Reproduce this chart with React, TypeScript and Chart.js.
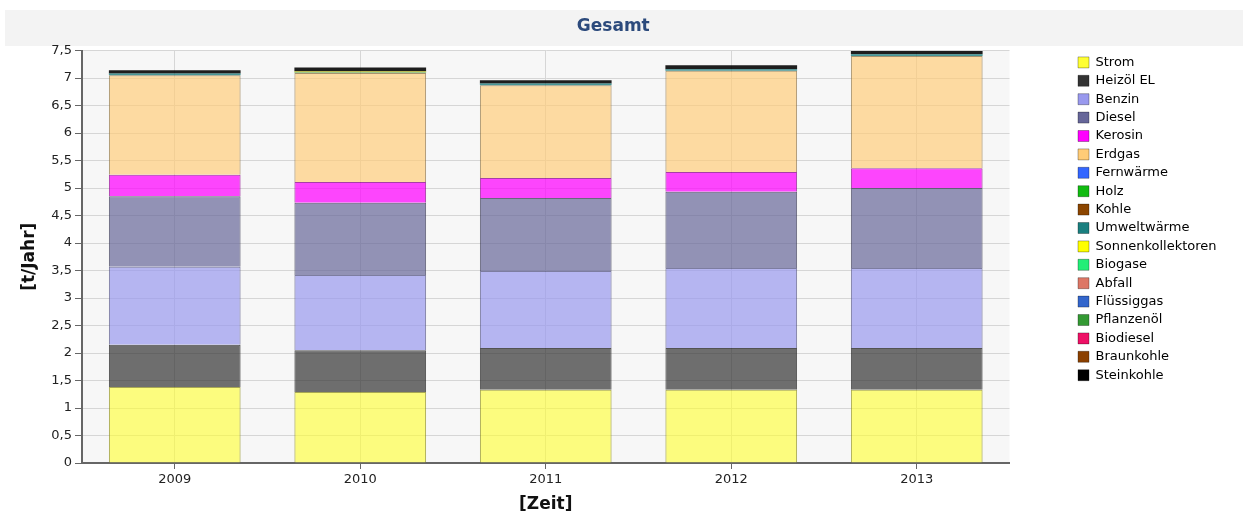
import React, { useEffect, useRef } from 'react';
import { Chart, registerables } from 'chart.js';

Chart.register(...registerables);

// ---------- data ----------
const years = ['2009', '2010', '2011', '2012', '2013'];
const yTickLabels = ['0', '0,5', '1', '1,5', '2', '2,5', '3', '3,5', '4', '4,5', '5', '5,5', '6', '6,5', '7', '7,5'];

const seriesNames = [
  'Strom', 'Heizöl EL', 'Benzin', 'Diesel', 'Kerosin', 'Erdgas', 'Fernwärme', 'Holz', 'Kohle',
  'Umweltwärme', 'Sonnenkollektoren', 'Biogase', 'Abfall', 'Flüssiggas', 'Pflanzenöl', 'Biodiesel',
  'Braunkohle', 'Steinkohle',
];

const strom = [1.38, 1.29, 1.33, 1.33, 1.33];
const heizoelEL = [0.77, 0.76, 0.76, 0.76, 0.76];
const benzin = [1.42, 1.37, 1.40, 1.455, 1.455];
const diesel = [1.28, 1.31, 1.33, 1.385, 1.455];
const kerosin = [0.39, 0.38, 0.36, 0.36, 0.36];
const erdgas = [1.81, 1.98, 1.69, 1.84, 2.04];
const fernwaerme = [0, 0, 0, 0, 0];
const holz = [0, 0, 0, 0, 0];
const kohle = [0, 0, 0, 0, 0];
const umweltwaerme = [0.03, 0.01, 0.03, 0.03, 0.03];
const sonnenkollektoren = [0, 0.02, 0, 0, 0];
const biogase = [0, 0, 0, 0, 0];
const abfall = [0, 0, 0, 0, 0];
const fluessiggas = [0, 0, 0, 0, 0];
const pflanzenoel = [0, 0, 0, 0, 0];
const biodiesel = [0, 0, 0, 0, 0];
const braunkohle = [0, 0, 0, 0, 0];
const steinkohle = [0.06, 0.07, 0.06, 0.07, 0.06];

const seriesValues = [
  strom, heizoelEL, benzin, diesel, kerosin, erdgas, fernwaerme, holz, kohle,
  umweltwaerme, sonnenkollektoren, biogase, abfall, fluessiggas, pflanzenoel, biodiesel,
  braunkohle, steinkohle,
];

// ---------- styles ----------
const seriesColors: [number, number, number][] = [
  [255, 255, 51], [51, 51, 51], [153, 153, 238], [102, 102, 153], [255, 0, 255], [255, 204, 119],
  [51, 102, 255], [17, 187, 17], [139, 69, 0], [26, 127, 127], [255, 255, 0], [34, 238, 119],
  [221, 119, 102], [51, 102, 204], [51, 153, 51], [238, 17, 102], [139, 64, 0], [0, 0, 0],
];
const seriesAlpha = [0.62, 0.7, 0.7, 0.7, 0.72, 0.68, 0.8, 0.8, 0.8, 0.8, 0.8, 0.8, 0.8, 0.8, 0.8, 0.8, 0.8, 0.88];

const rgba = (c: [number, number, number], a: number) => `rgba(${c[0]},${c[1]},${c[2]},${a})`;
const darker = (c: [number, number, number]) => `rgba(${Math.round(c[0] * 0.55)},${Math.round(c[1] * 0.55)},${Math.round(c[2] * 0.55)},0.75)`;

const plotBg = {
  id: 'plotBg',
  beforeDraw(chart: any) {
    const { ctx, chartArea: a } = chart;
    ctx.save();
    ctx.fillStyle = '#f7f7f7';
    ctx.fillRect(a.left, a.top, a.right - a.left, a.bottom - a.top);
    ctx.restore();
  },
};

export default function App() {
  const ref = useRef<HTMLCanvasElement>(null);

  useEffect(() => {
    const canvas = ref.current;
    if (!canvas) return;
    const fontFamily = '"DejaVu Sans", Verdana, sans-serif';
    Chart.defaults.font.family = fontFamily;

    const W = 1229;
    const legendFont = 13;
    const boxW = 11;
    const legendPad = 5.4;
    const mctx = document.createElement('canvas').getContext('2d')!;
    mctx.font = `${legendFont}px ${fontFamily}`;
    const maxText = Math.max(...seriesNames.map((n) => mctx.measureText(n).width));
    const legendW = legendPad + boxW + legendFont / 2 + maxText + 10;
    const plotRight = 1009.5;
    const gapW = 1078 - plotRight - legendPad;
    const padRight = Math.max(0, W - plotRight - gapW - legendW);

    const datasets = seriesNames.map((name, i) => {
      const small = i >= 6;
      return {
        label: name,
        data: seriesValues[i],
        backgroundColor: rgba(seriesColors[i], seriesAlpha[i]),
        borderColor: darker(seriesColors[i]),
        borderWidth: small ? 0 : 1,
        barPercentage: 0.71,
        categoryPercentage: 1,
        yAxisID: 'y',
      };
    });

    const chart = new Chart(canvas, {
      type: 'bar',
      data: { labels: years, datasets },
      plugins: [plotBg],
      options: {
        animation: false,
        responsive: false,
        layout: { padding: { left: 0, right: padRight, top: 0, bottom: 0 } },
        plugins: {
          title: {
            display: true,
            text: 'Gesamt',
            color: '#2c4a7c',
            font: { size: 17, weight: 'bold' },
            padding: { top: 16.8, bottom: 13.3 },
          },
          legend: {
            position: 'right',
            align: 'start',
            fullSize: false,
            labels: {
              boxWidth: boxW,
              boxHeight: boxW,
              padding: legendPad,
              color: '#222',
              font: { size: legendFont },
              generateLabels: (ch: any) =>
                ch.data.datasets.map((ds: any, i: number) => ({
                  text: ds.label,
                  fillStyle: rgba(seriesColors[i], 1),
                  strokeStyle: 'rgba(0,0,0,0.3)',
                  lineWidth: 1,
                  hidden: false,
                  datasetIndex: i,
                })),
            },
          },
          tooltip: { enabled: false },
        },
        scales: {
          x: {
            stacked: true,
            grid: { offset: false, color: '#d6d6d6', tickColor: '#666', tickLength: 6 },
            border: { color: '#666', width: 2 },
            ticks: { color: '#222', font: { size: 13 }, padding: 3 },
            title: {
              display: true,
              text: '[Zeit]',
              color: '#111',
              font: { size: 17, weight: 'bold' },
              padding: { top: 0, bottom: 0.8 },
            },
            afterFit: (s: any) => {
              s.height = 53;
            },
          },
          y: {
            stacked: true,
            min: 0,
            max: 7.5,
            grid: { color: '#d6d6d6', tickColor: '#666', tickLength: 7 },
            border: { color: '#666', width: 2 },
            ticks: {
              stepSize: 0.5,
              color: '#222',
              font: { size: 13 },
              padding: 3,
              callback: (v: any) => yTickLabels[Math.round(Number(v) * 2)] ?? String(v),
            },
            title: {
              display: true,
              text: '[t/Jahr]',
              color: '#111',
              font: { size: 17, weight: 'bold' },
              padding: { top: 19.8, bottom: 0 },
            },
            afterFit: (s: any) => {
              s.width = 82;
            },
          },
          gap: {
            type: 'linear',
            position: 'right',
            display: true,
            grid: { display: false, drawTicks: false },
            border: { display: false },
            ticks: { display: false },
            title: { display: false },
            afterFit: (s: any) => {
              s.width = gapW;
            },
          },
        },
      } as any,
    });

    return () => chart.destroy();
  }, []);

  return (
    <div style={{ position: 'fixed', left: 0, top: 0, width: 1243, height: 516, background: '#fff', overflow: 'hidden' }}>
      <div style={{ position: 'absolute', left: 5, top: 10, width: 1238, height: 36, background: '#f3f3f3' }} />
      <canvas ref={ref} width={1229} height={516} style={{ position: 'absolute', left: 0, top: 0 }} />
    </div>
  );
}
